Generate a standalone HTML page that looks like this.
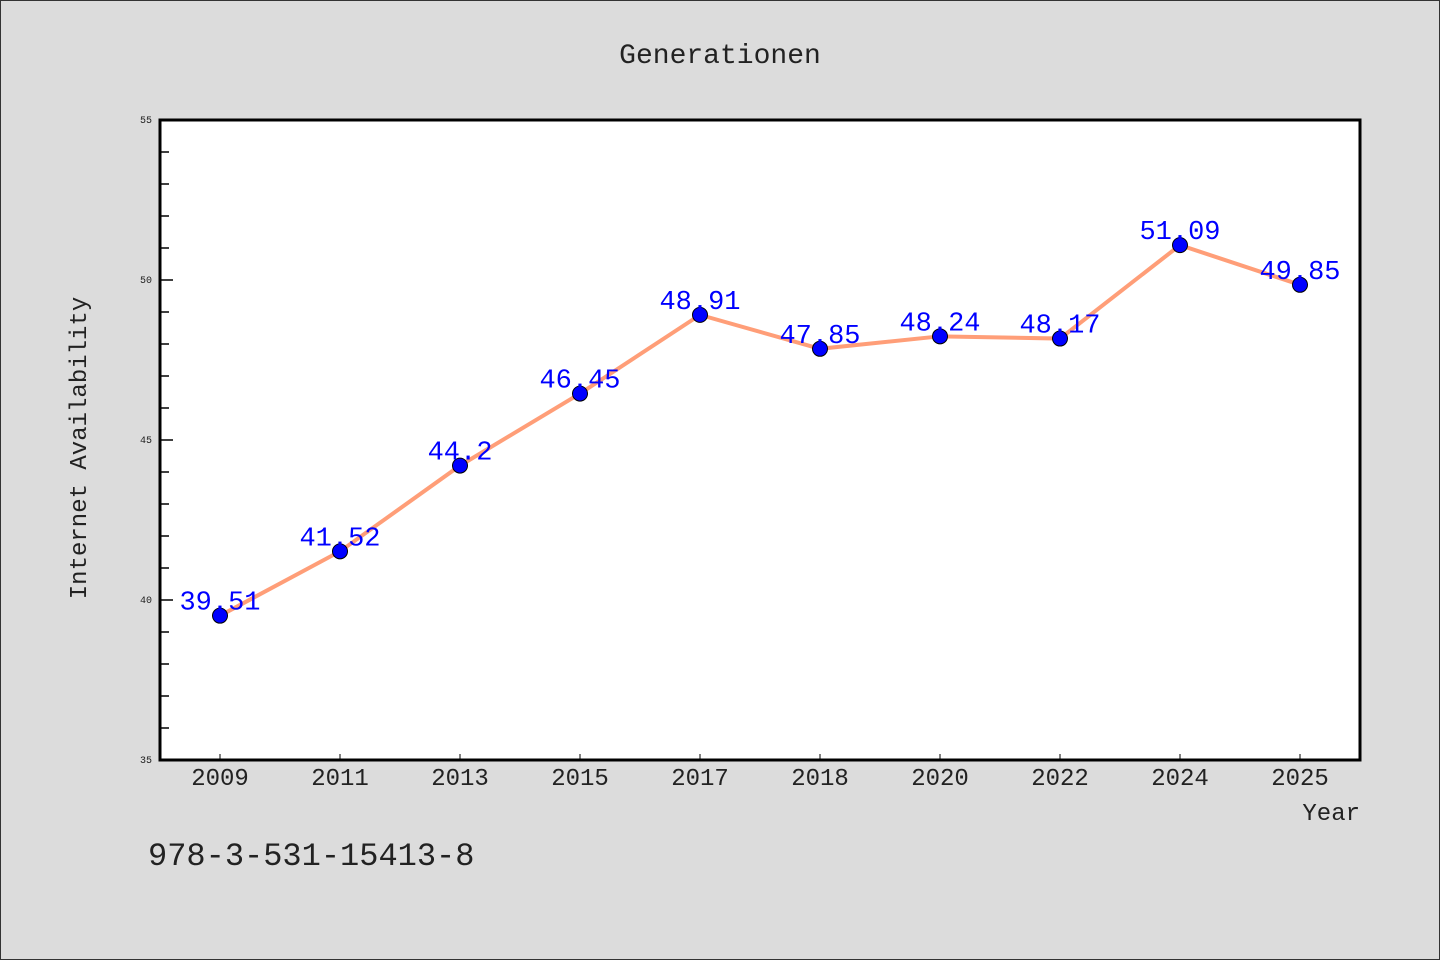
<!DOCTYPE html>
<html><head><meta charset="utf-8"><style>
body{margin:0;background:#dcdcdc}
svg{display:block}
text{font-family:"Liberation Mono","DejaVu Sans Mono",monospace}
</style></head><body>
<svg id="chart" width="1440" height="960" xmlns="http://www.w3.org/2000/svg">
<rect x="0.5" y="0.5" width="1439" height="959" fill="#dcdcdc" stroke="#333"/>
<text x="720" y="63" text-anchor="middle" font-size="28" fill="#222">Generationen</text>
<rect x="160" y="120" width="1200" height="640" fill="#fff"/>
<g id="axes"></g>
<g id="series"></g>
<rect x="160" y="120" width="1200" height="640" fill="none" stroke="#000" stroke-width="3"/>
<text x="86" y="448" transform="rotate(-90 86 448)" text-anchor="middle" font-size="24" fill="#222">Internet Availability</text>
<text x="1360" y="820" text-anchor="end" font-size="24" fill="#222">Year</text>
<text x="148" y="865" font-family="Liberation Sans, sans-serif" font-size="32" fill="#222">978-3-531-15413-8</text>
</svg>
<script>
const categories=["2009","2011","2013","2015","2017","2018","2020","2022","2024","2025"];
const values=[39.51,41.52,44.2,46.45,48.91,47.85,48.24,48.17,51.09,49.85];
const valueLabels=["39.51","41.52","44.2","46.45","48.91","47.85","48.24","48.17","51.09","49.85"];
const yTicks=[35,40,45,50,55];
const yMin=35,yMax=55;
const NS="http://www.w3.org/2000/svg";
const L=160,T=120,W=1200,H=640;
function xs(i){return L+W/categories.length*(i+0.5);}
function ys(v){return T+H*(yMax-v)/(yMax-yMin);}
function mk(tag,attrs,parent){const e=document.createElementNS(NS,tag);for(const k in attrs)e.setAttribute(k,attrs[k]);parent.appendChild(e);return e;}
const ax=document.getElementById('axes'),se=document.getElementById('series');
for(let v=yMin;v<=yMax;v++){
  const major=yTicks.includes(v);
  const t=mk('line',{x1:L,x2:L+(major?13:9),y1:ys(v),y2:ys(v),stroke:'#000','stroke-width':1.5},ax);
  
  
}
yTicks.forEach(v=>{
  const t=mk('text',{x:L-8,y:ys(v)+3,'text-anchor':'end','font-size':10,fill:'#222'},ax);
  t.textContent=v;
  
  
});
categories.forEach((c,i)=>{
  const tk=mk('line',{x1:xs(i),x2:xs(i),y1:T+H,y2:T+H-6,stroke:'#000','stroke-width':1},ax);
  
  
  const t=mk('text',{x:xs(i),y:785,'text-anchor':'middle','font-family':'Liberation Sans, sans-serif','font-size':24,fill:'#222'},ax);
  t.textContent=c;
  
  
});
const line=mk('polyline',{points:values.map((v,i)=>xs(i)+','+ys(v)).join(' '),fill:'none',stroke:'#ff9e78','stroke-width':4},se);


values.forEach((v,i)=>{
  const c=mk('circle',{cx:xs(i),cy:ys(v),r:7.5,fill:'#0000ff',stroke:'#000','stroke-width':1},se);
  
  
  const t=mk('text',{x:xs(i),y:ys(v)-6,'text-anchor':'middle','font-family':'Liberation Sans, sans-serif','font-size':27,fill:'#0000ff'},se);
  t.textContent=valueLabels[i];
  
  
});
</script>
</body></html>
